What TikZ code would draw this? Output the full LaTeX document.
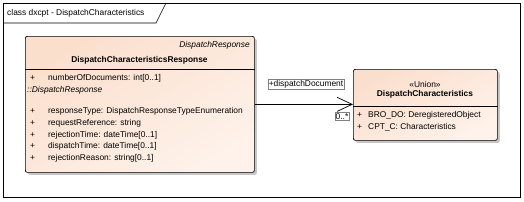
\documentclass[tikz,border=0pt]{standalone}
\usepackage{fontspec}
\setmainfont{Liberation Sans}
\usetikzlibrary{arrows.meta,shadows}
\definecolor{peach}{HTML}{FBDFCD}
\definecolor{peachlight}{HTML}{FEF2EA}
\definecolor{shadowgray}{HTML}{A0A0A0}
\tikzset{
  classbox/.style={draw=black, line width=0.7pt, rounded corners=2pt,
    top color=peach, bottom color=peachlight, shading angle=30,
    drop shadow={shadow xshift=2.5pt, shadow yshift=-2.5pt, fill=shadowgray, opacity=0.6},
    anchor=north west, inner sep=0pt},
  txt/.style={font=\fontsize{8.4}{10}\selectfont, inner sep=0pt, anchor=west},
  itxt/.style={txt, font=\fontsize{8.4}{10}\selectfont\itshape},
  btxt/.style={txt, font=\fontsize{8.4}{10}\selectfont\bfseries, anchor=center},
  lbl/.style={draw=gray, line width=0.4pt, fill=white, inner sep=1pt,
    font=\fontsize{8.4}{10}\selectfont},
  divider/.style={draw=black, line width=0.5pt},
  assoc/.style={draw=black, line width=0.7pt}
}
\begin{document}
\begin{tikzpicture}[x=1pt,y=-1pt]
\useasboundingbox (0,0) rectangle (524,201);
% frame
\draw[line width=0.6pt] (3,3) rectangle (520,197);
\draw[line width=0.6pt] (3,23) -- (156,23) -- (166,3);
\node[txt] (title) at (7,13) {class dxcpt - DispatchCharacteristics};

% left class
\node[classbox, minimum width=229pt, minimum height=136pt] (resp) at (25,36) {};
\node[itxt, anchor=east] (respst) at (250,45) {DispatchResponse};
\node[btxt] (respname) at (139.5,60) {DispatchCharacteristicsResponse};
\draw[divider] (resp.west |- 0,69) -- (resp.east |- 0,69);
\node[txt] (p1) at (30,78) {+};
\node[txt] (a1) at (48,78) {numberOfDocuments: int[0..1]};
\node[itxt] (inh) at (27,90) {::DispatchResponse};
\node[txt] (p2) at (30,111) {+};
\node[txt] (a2) at (48,111) {responseType: DispatchResponseTypeEnumeration};
\node[txt] (p3) at (30,123) {+};
\node[txt] (a3) at (48,123) {requestReference: string};
\node[txt] (p4) at (30,135) {+};
\node[txt] (a4) at (48,135) {rejectionTime: dateTime[0..1]};
\node[txt] (p5) at (30,146.5) {+};
\node[txt] (a5) at (48,146.5) {dispatchTime: dateTime[0..1]};
\node[txt] (p6) at (30,158) {+};
\node[txt] (a6) at (48,158) {rejectionReason: string[0..1]};

% right class
\node[classbox, minimum width=144pt, minimum height=71pt] (union) at (353,69) {};
\node[btxt, font=\fontsize{8.4}{10}\selectfont] (unst) at (425,84) {«Union»};
\node[btxt] (unname) at (425,94.5) {DispatchCharacteristics};
\draw[divider] (union.west |- 0,106) -- (union.east |- 0,106);
\node[txt] (q1) at (357,115) {+};
\node[txt] (b1) at (368,115) {BRO\_DO: DeregisteredObject};
\node[txt] (q2) at (357,127) {+};
\node[txt] (b2) at (368,127) {CPT\_C: Characteristics};

% association
\draw[assoc, -{Straight Barb[length=15pt,width=14pt,line width=0.7pt]}] (resp.east) -- (resp.east -| union.west);
\node[lbl] (role) at (306,84.5) {+dispatchDocument};
\node[lbl] (mult) at (342,116.5) {0..*};
\end{tikzpicture}
\end{document}
